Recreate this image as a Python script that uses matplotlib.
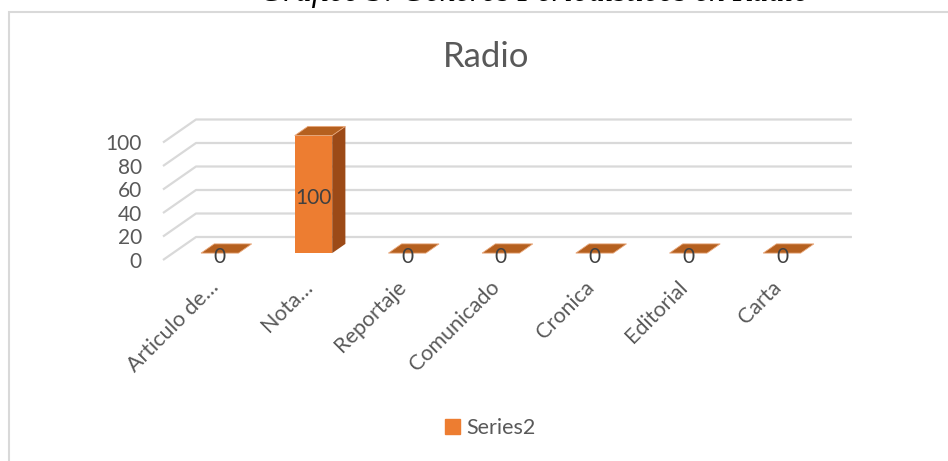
import matplotlib.pyplot as plt
from matplotlib.patches import Polygon, Rectangle, Patch

# datos
categorias = ["Articulo de…", "Nota…", "Reportaje", "Comunicado", "Cronica", "Editorial", "Carta"]
valores = [0, 100, 0, 0, 0, 0, 0]
ticks_y = [0, 20, 40, 60, 80, 100]
serie = "Series2"
titulo = "Radio"
leyenda_sup = "Gráfico 3: Géneros Periodísticos en Radio"

plt.rcParams['font.family'] = ['Lato', 'DejaVu Sans']
gris = '#595959'
naranja = '#ED7D31'
naranja_top = '#B5601F'
naranja_lado = '#9C4A17'
linea = '#D9D9D9'

W, H = 948, 461
fig = plt.figure(figsize=(W / 100, H / 100), dpi=100)
ax = fig.add_axes([0, 0, 1, 1])
ax.axis('off')

# escala en pixeles por categoria y por unidad
px_cat = 93.7
px_val = 1.175
x_izq = -0.5 - 163 / px_cat
y_inf = -(H - 260) / px_val
ax.set_xlim(x_izq, x_izq + W / px_cat)
ax.set_ylim(y_inf, y_inf + H / px_val)

# profundidad del piso (vista oblicua)
dx = 33 / px_cat
dy = 23 / px_val
n = len(categorias)

# lineas de la cuadricula
for v in ticks_y:
    ax.plot([-0.5, -0.5 + dx, n - 0.5 + dx], [v, v + dy, v + dy],
            color=linea, lw=1.6, solid_capstyle='butt', zorder=1)
    ax.text(-0.5 - 21 / px_cat, v - 1.5 / px_val, str(v), ha='right', va='center',
            fontsize=15, color=gris)

# barras 3D
ancho = 0.4
f0, fd = 0.3, 0.4
for i, v in enumerate(valores):
    x0 = i - ancho / 2 + f0 * dx
    x1 = x0 + ancho
    yb = f0 * dy
    yt = v + yb
    ddx, ddy = fd * dx, fd * dy
    if v > 0:
        ax.add_patch(Rectangle((x0, yb), ancho, v, fc=naranja, ec='none', zorder=3))
        ax.add_patch(Polygon([(x1, yb), (x1 + ddx, yb + ddy), (x1 + ddx, yt + ddy), (x1, yt)],
                             closed=True, fc=naranja_lado, ec='none', zorder=3))
    ax.add_patch(Polygon([(x0, yt), (x1, yt), (x1 + ddx, yt + ddy), (x0 + ddx, yt + ddy)],
                         closed=True, fc=naranja_top, ec='#E9A77A', lw=0.6, zorder=3))
    ax.annotate(str(v), ((x0 + x1) / 2, yb + v / 2), xytext=(0, -4),
                textcoords='offset pixels', ha='center', va='center',
                fontsize=15, color='#404040', zorder=4)

# etiquetas del eje x
for i, c in enumerate(categorias):
    ax.text(i - 1 / px_cat, -17 / px_val, c, rotation=45, rotation_mode='anchor',
            ha='right', va='top', fontsize=15.5, color=gris)

fig.text(486 / W, 1 - 57 / H, titulo, ha='center', va='center', fontsize=25, color=gris)

ax.legend(handles=[Patch(color=naranja, label=serie)], loc='center',
          bbox_to_anchor=(490 / W, 1 - 428 / H), bbox_transform=fig.transFigure,
          frameon=False, handlelength=0.7, handleheight=0.7, handletextpad=0.3,
          fontsize=15.5, labelcolor=gris)

# marco del grafico y texto cortado arriba
fig.add_artist(Rectangle((9 / W, -0.1), 2, 1.1 - 12 / H, transform=fig.transFigure,
                         fill=False, ec=linea, lw=1.5))
fig.text(535 / W, 1 - 0.5 / H, leyenda_sup, ha='center', va='baseline',
         family='Liberation Serif', fontstyle='italic', fontsize=23)

fig.savefig('out.png', dpi=100, facecolor='white')
